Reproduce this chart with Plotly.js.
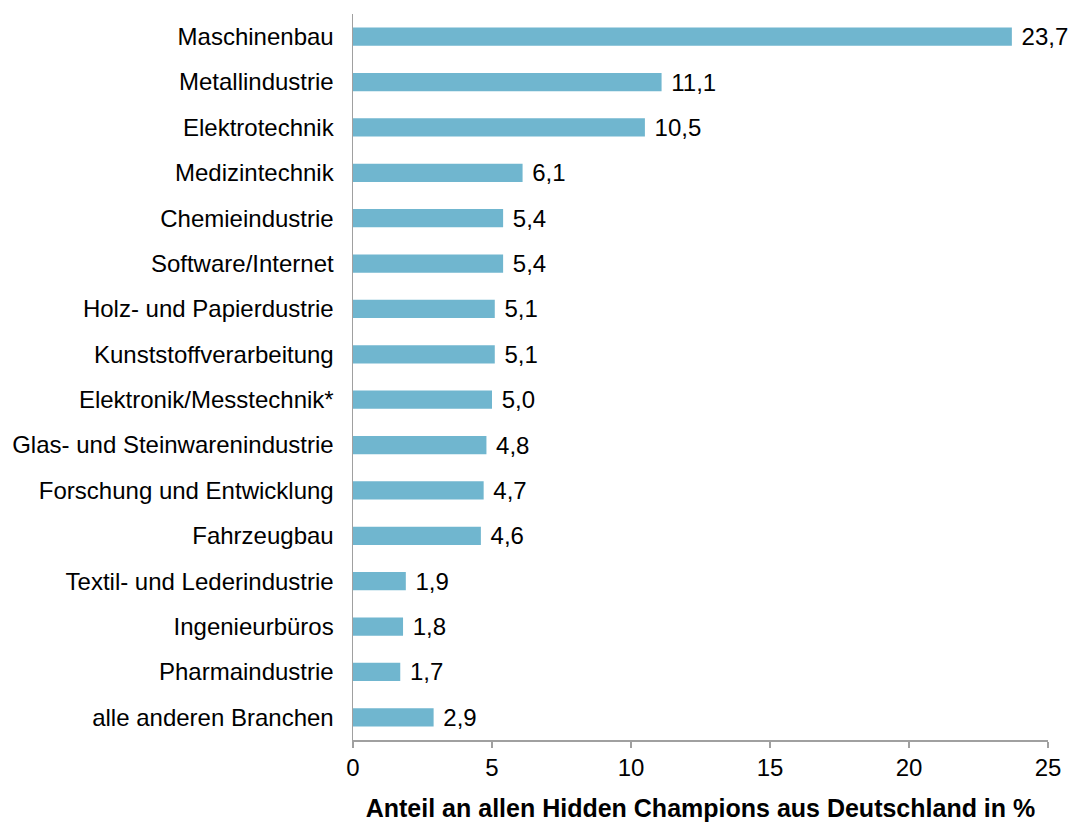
<!DOCTYPE html>
<html>
<head>
<meta charset="utf-8">
<script src="https://cdn.plot.ly/plotly-3.0.1.min.js"></script>
<style>html,body{margin:0;padding:0;background:#fff;}#chart{width:1075px;height:822px;}</style>
</head>
<body>
<div id="chart"></div>
<script>
const categories = [
  "Maschinenbau",
  "Metallindustrie",
  "Elektrotechnik",
  "Medizintechnik",
  "Chemieindustrie",
  "Software/Internet",
  "Holz- und Papierdustrie",
  "Kunststoffverarbeitung",
  "Elektronik/Messtechnik*",
  "Glas- und Steinwarenindustrie",
  "Forschung und Entwicklung",
  "Fahrzeugbau",
  "Textil- und Lederindustrie",
  "Ingenieurbüros",
  "Pharmaindustrie",
  "alle anderen Branchen"
];
const values = [23.7, 11.1, 10.5, 6.1, 5.4, 5.4, 5.1, 5.1, 5.0, 4.8, 4.7, 4.6, 1.9, 1.8, 1.7, 2.9];
const xTicks = [0, 5, 10, 15, 20, 25];
const xTitle = "Anteil an allen Hidden Champions aus Deutschland in %";

const font = "Liberation Sans, Arial, sans-serif";
const trace = {
  type: "bar",
  orientation: "h",
  y: categories,
  x: values,
  width: 0.4,
  marker: {color: "#70b6cf"},
  text: values.map(v => "\u00a0" + v.toFixed(1).replace(".", ",")),
  textposition: "outside",
  constraintext: "none",
  textfont: {family: font, size: 24, color: "#000"},
  cliponaxis: false,
  hoverinfo: "none"
};
const layout = {
  width: 1075, height: 822,
  margin: {l: 353, r: 27, t: 14, b: 82},
  paper_bgcolor: "#fff", plot_bgcolor: "#fff",
  showlegend: false,
  font: {family: font, size: 24, color: "#000"},
  xaxis: {
    range: [0, 25],
    tickvals: xTicks,
    ticktext: xTicks.map(String),
    showgrid: false, zeroline: false,
    showline: true, linecolor: "#a0a0a0", linewidth: 1.5,
    ticks: "outside", ticklen: 6, tickcolor: "#a0a0a0", tickwidth: 1.5,
    tickfont: {family: font, size: 24, color: "#000"},
    title: {text: xTitle, font: {family: font, size: 25, color: "#000", weight: "bold"}, standoff: 27}
  },
  yaxis: {
    type: "category",
    autorange: "reversed",
    showgrid: false, zeroline: false,
    showline: true, linecolor: "#a0a0a0", linewidth: 1.5,
    ticks: "outside", ticklen: 13, tickcolor: "rgba(0,0,0,0)",
    tickfont: {family: font, size: 24, color: "#000"}
  }
};
Plotly.newPlot("chart", [trace], layout, {displayModeBar: false, staticPlot: true});
</script>
</body>
</html>
